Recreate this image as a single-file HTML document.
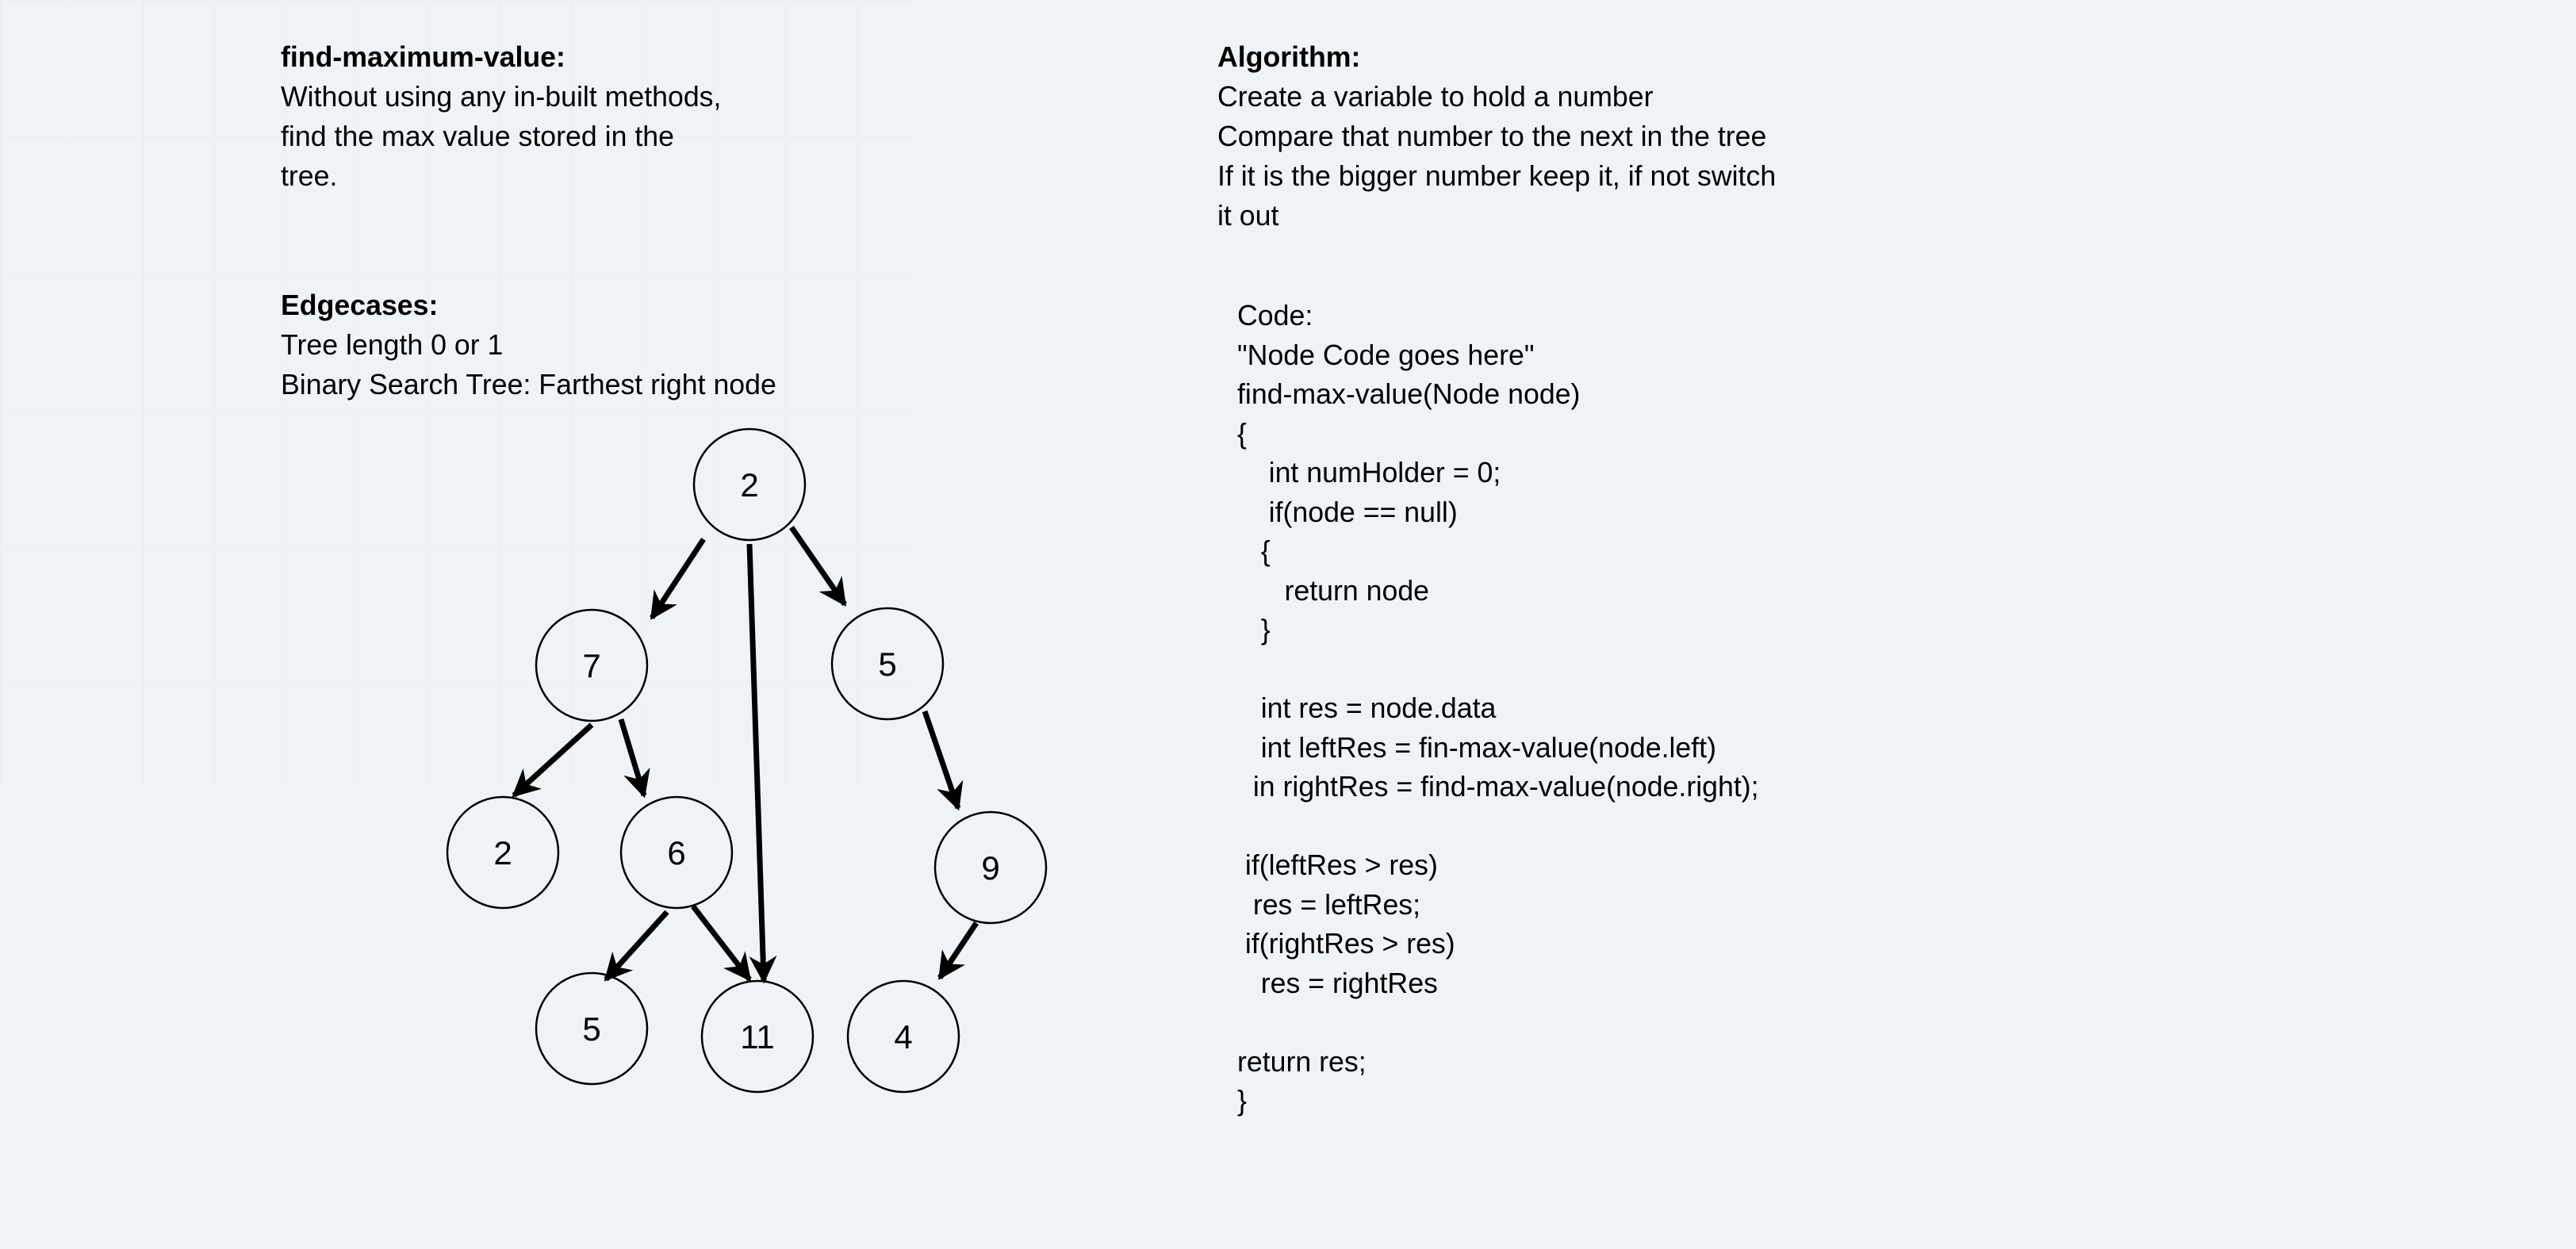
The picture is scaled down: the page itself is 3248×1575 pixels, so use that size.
<!DOCTYPE html>
<html><head><meta charset="utf-8"><style>
html,body{margin:0;padding:0}
body{width:3248px;height:1575px;background:#eff3f6;position:relative;overflow:hidden;font-family:"Liberation Sans",sans-serif;color:#000}
.grid{position:absolute;left:0;top:0;width:1150px;height:990px;background-image:linear-gradient(#e6eaee 1px,transparent 1px),linear-gradient(90deg,#e6eaee 1px,transparent 1px);background-size:90px 172px;opacity:.6}
.t{position:absolute;font-size:35.7px;line-height:50px;white-space:pre}
b{font-weight:bold}
svg{position:absolute;left:0;top:0}
</style></head><body>
<div class="grid"></div>
<div class="t" style="left:354px;top:47px"><b>find-maximum-value:</b>
Without using any in-built methods,
find the max value stored in the
tree.</div>
<div class="t" style="left:354px;top:360px"><b>Edgecases:</b>
Tree length 0 or 1
Binary Search Tree: Farthest right node</div>
<div class="t" style="left:1535px;top:47px"><b>Algorithm:</b>
Create a variable to hold a number
Compare that number to the next in the tree
If it is the bigger number keep it, if not switch
it out</div>
<div class="t" style="left:1560px;top:374px;line-height:49.5px">Code:
"Node Code goes here"
find-max-value(Node node)
{
    int numHolder = 0;
    if(node == null)
   {
      return node
   }

   int res = node.data
   int leftRes = fin-max-value(node.left)
  in rightRes = find-max-value(node.right);

 if(leftRes &gt; res)
  res = leftRes;
 if(rightRes &gt; res)
   res = rightRes

return res;
}</div>
<svg width="3248" height="1575" viewBox="0 0 3248 1575">
<defs><marker id="a" viewBox="0 0 10 10" refX="9" refY="5" markerWidth="5" markerHeight="5" orient="auto" markerUnits="strokeWidth"><path d="M0,0 L10,5 L0,10 L3,5 z" fill="#000"/></marker></defs>
<g fill="none" stroke="#000" stroke-width="2.5">
<circle cx="945" cy="611" r="70"/><circle cx="746" cy="839" r="70"/><circle cx="1119" cy="837" r="70"/>
<circle cx="634" cy="1075" r="70"/><circle cx="853" cy="1075" r="70"/><circle cx="1249" cy="1094" r="70"/>
<circle cx="746" cy="1297" r="70"/><circle cx="955" cy="1307" r="70"/><circle cx="1139" cy="1307" r="70"/>
</g>
<g stroke="#000" stroke-width="7" marker-end="url(#a)">
<line x1="887" y1="680" x2="822" y2="779"/>
<line x1="945" y1="686" x2="963" y2="1237"/>
<line x1="998" y1="665" x2="1065" y2="762"/>
<line x1="746" y1="914" x2="648" y2="1003"/>
<line x1="783" y1="907" x2="812" y2="1003"/>
<line x1="1166" y1="897" x2="1208" y2="1019"/>
<line x1="841" y1="1150" x2="764" y2="1235"/>
<line x1="874" y1="1143" x2="945" y2="1235"/>
<line x1="1231" y1="1164" x2="1185" y2="1233"/>
</g>
<g font-family="Liberation Sans, sans-serif" font-size="42" text-anchor="middle" fill="#000">
<text x="945" y="626">2</text><text x="746" y="854">7</text><text x="1119" y="852">5</text>
<text x="634" y="1090">2</text><text x="853" y="1090">6</text><text x="1249" y="1109">9</text>
<text x="746" y="1312">5</text><text x="955" y="1322">11</text><text x="1139" y="1322">4</text>
</g>
</svg>
</body></html>
